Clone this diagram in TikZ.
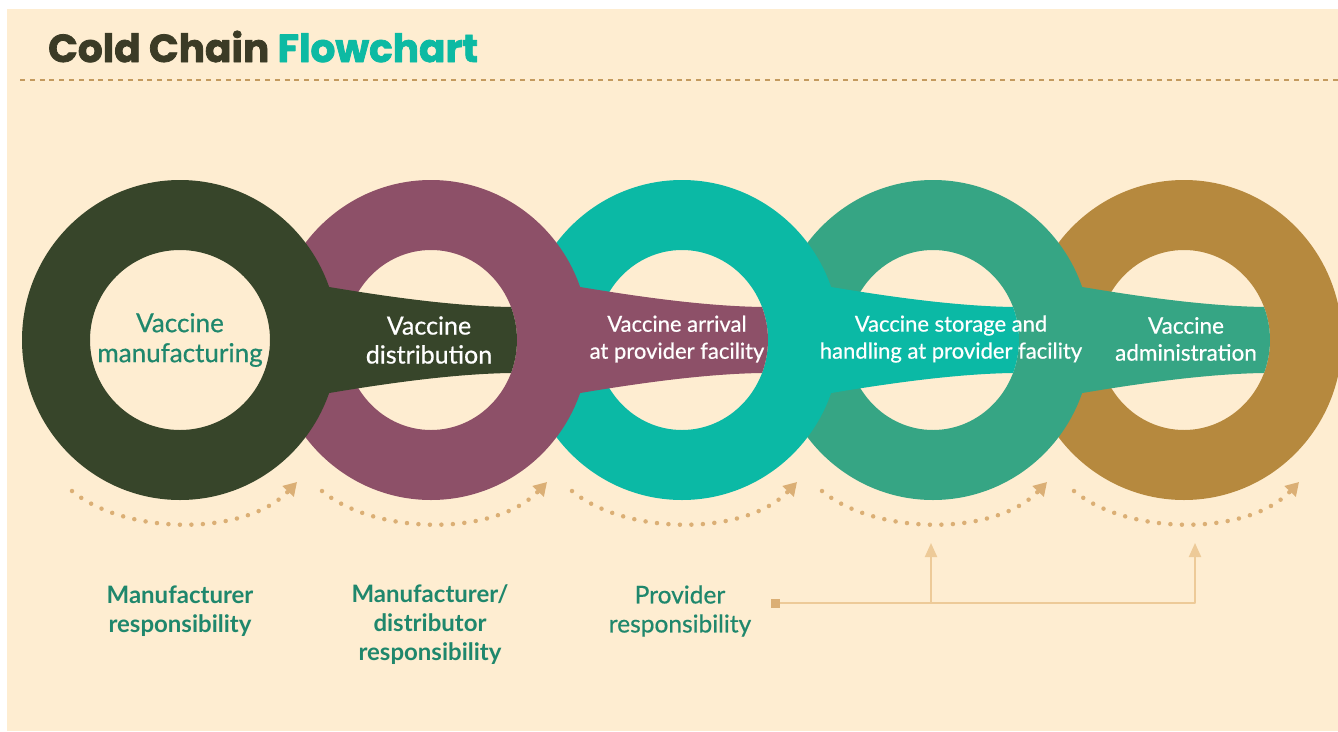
\documentclass[tikz,border=0pt]{standalone}
\usepackage{fontspec}
\setmainfont{Lato}[UprightFeatures={FakeBold=0.6}]
\newfontfamily\titlefont{Poppins}[BoldFeatures={FakeBold=2}]
\usetikzlibrary{arrows.meta,positioning}

\definecolor{cream}{HTML}{FEEDD1}
\definecolor{titledark}{HTML}{3B3B26}
\definecolor{titleteal}{HTML}{0DBAA3}
\definecolor{ruletan}{HTML}{C49A5E}
\definecolor{ringone}{HTML}{37452A}
\definecolor{ringtwo}{HTML}{8D5068}
\definecolor{ringthree}{HTML}{0BB9A5}
\definecolor{ringfour}{HTML}{36A584}
\definecolor{ringfive}{HTML}{B6893E}
\definecolor{labelgreen}{HTML}{1F876C}
\definecolor{dottan}{HTML}{DBAF75}
\definecolor{linktan}{HTML}{EDCA98}

\begin{document}
\begin{tikzpicture}[x=1pt, y=-1pt, line cap=round, line join=round,
		ringlabel/.style={align=center, inner sep=0pt, text=white, font=\fontsize{25}{29}\selectfont},
		smalllabel/.style={ringlabel, font=\fontsize{22}{27}\selectfont},
		resplabel/.style={align=center, inner sep=0pt, text=labelgreen, font=\bfseries\fontsize{24}{29}\selectfont},
		dotarc/.style={draw=dottan, line width=4.5pt, dash pattern=on 0pt off 11.5pt, -{Triangle[length=13pt, width=15pt]}},
		link/.style={draw=linktan, line width=2pt, line cap=butt, -{Triangle[length=14pt, width=12pt]}}]
		
		% page and header
		\useasboundingbox (0,0) rectangle (1338,731);
		\fill[cream] (7,9) rectangle (1338,731);
		\node[anchor=base west, inner sep=0pt, text=titledark, font=\titlefont\bfseries\fontsize{39}{39}\selectfont] (cold) at (48,62) {Cold Chain};
		\node[base right=8pt of cold, inner sep=0pt, text=titleteal, font=\titlefont\bfseries\fontsize{39}{39}\selectfont] (flow) {Flowchart};
		\draw[ruletan, line width=2.5pt, line cap=butt, dash pattern=on 5pt off 4.8pt] (20,80) -- (1338,80);
		
		% rings, back to front, each with its band into the next hole
		\fill[ringfive, even odd rule] (1184,340) ellipse [x radius=158, y radius=160]
		(1184,340) ellipse [x radius=86, y radius=90];
		\foreach \c/\col/\hole in {933/ringfour/86, 682/ringthree/86, 431/ringtwo/86, 180/ringone/90}{
			\fill[\col] (\c+120,282) .. controls (\c+200,296) and (\c+270,306) .. (\c+331,307)
			arc [start angle=-21.5, end angle=21.5, x radius=86, y radius=90]
			.. controls (\c+270,374) and (\c+200,384) .. (\c+120,398) -- cycle;
			\fill[\col, even odd rule] (\c,340) ellipse [x radius=158, y radius=160]
			(\c,340) ellipse [x radius=\hole, y radius=90];
		}
		
		% step labels
		\node[ringlabel, text=labelgreen, font=\fontsize{26}{30}\selectfont] (manu) at (180,340) {Vaccine\\manufacturing};
		\node[ringlabel] (dist) at (429,340) {Vaccine\\distribution};
		\node[smalllabel] (arri) at (677,339) {Vaccine arrival\\at provider facility};
		\node[smalllabel] (stor) at (951,339) {Vaccine storage and\\handling at provider facility};
		\node[ringlabel, font=\fontsize{22.5}{27}\selectfont] (admi) at (1186,339) {Vaccine\\administration};
		
		% dotted arrows under the rings
		\foreach \c in {180,430,680,930,1182}
		\draw[dotarc] (\c-108,491) .. controls (\c-55,535) and (\c+65,537) .. (\c+117,482);
		
		% responsibilities
		\node[resplabel] (mresp) at (180,611) {Manufacturer\\responsibility};
		\node[resplabel] (dresp) at (430,625) {Manufacturer/\\distributor\\responsibility};
		\node[resplabel, font=\fontsize{24.5}{29}\selectfont] (presp) at (680,611) {Provider\\responsibility};
		
		\node[fill=dottan, minimum size=9pt, inner sep=0pt] (sq) at (775,603) {};
		\coordinate (split) at (931,603);
		\coordinate (tipstor) at (931,543);
		\coordinate (tipadmi) at (1195,543);
		\draw[link] (sq) -| (tipadmi);
		\draw[link] (split) -- (tipstor);
		
	\end{tikzpicture}
\end{document}
